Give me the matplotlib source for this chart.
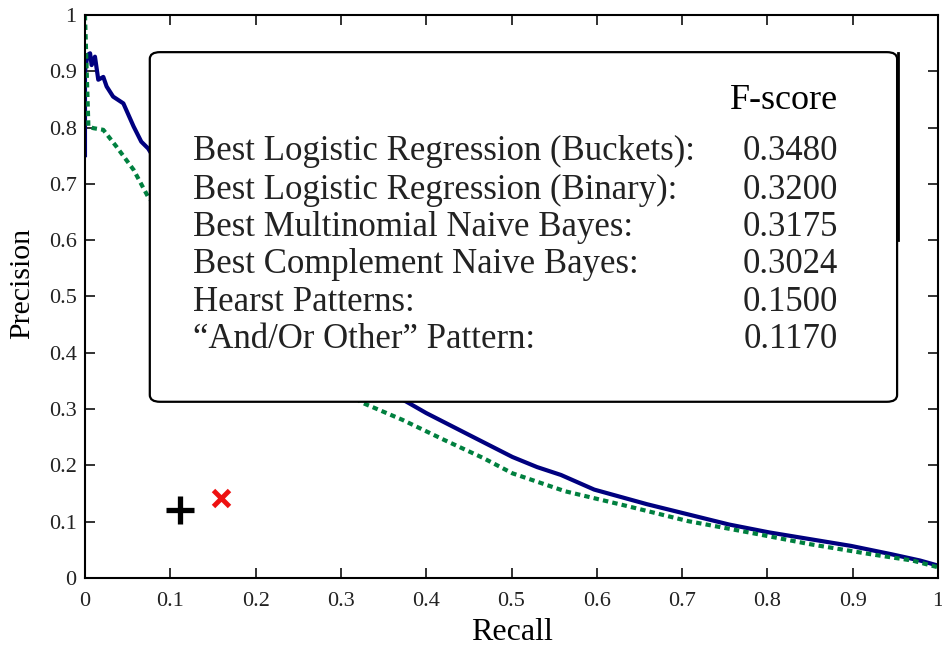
import numpy as np
import matplotlib.pyplot as plt
from matplotlib.patches import FancyBboxPatch

plt.rcParams['font.family'] = ['Liberation Serif', 'DejaVu Serif']

# precision / recall curves
# (the 0.08-0.36 stretch sits behind the box, values there are rough)
lr_recall = [0.0, 0.0, 0.003, 0.006, 0.0078, 0.0117, 0.0156, 0.0215, 0.0254, 0.033, 0.045,
             0.057, 0.066, 0.074, 0.10, 0.15, 0.20, 0.25, 0.30, 0.35, 0.377, 0.40,
             0.453, 0.501, 0.530, 0.558, 0.597, 0.659, 0.707, 0.755, 0.802, 0.850, 0.898,
             0.946, 0.979, 1.0]
lr_prec = [0.751, 0.90, 0.929, 0.932, 0.911, 0.926, 0.885, 0.890, 0.873, 0.855, 0.843,
           0.802, 0.775, 0.763, 0.70, 0.60, 0.51, 0.44, 0.385, 0.335, 0.313, 0.293,
           0.252, 0.215, 0.197, 0.183, 0.157, 0.131, 0.113, 0.095, 0.081, 0.069, 0.057,
           0.042, 0.031, 0.022]

nb_recall = [0.0, 0.004, 0.0098, 0.0215, 0.037, 0.057, 0.074, 0.10, 0.15, 0.20, 0.25,
             0.30, 0.324, 0.372, 0.420, 0.467, 0.501, 0.563, 0.635, 0.707, 0.778,
             0.850, 0.922, 0.970, 1.0]
nb_prec = [1.0, 0.802, 0.799, 0.796, 0.766, 0.725, 0.677, 0.63, 0.54, 0.46, 0.40,
           0.34, 0.312, 0.281, 0.246, 0.213, 0.186, 0.154, 0.128, 0.101, 0.081,
           0.060, 0.042, 0.031, 0.019]

# single-point methods
hearst_pt = (0.111, 0.121)
andor_pt = (0.159, 0.142)

methods = ['Best Logistic Regression (Buckets):',
           'Best Logistic Regression (Binary):',
           'Best Multinomial Naive Bayes:',
           'Best Complement Naive Bayes:',
           'Hearst Patterns:',
           '\u201cAnd/Or Other\u201d Pattern:']
fscores = ['0.3480', '0.3200', '0.3175', '0.3024', '0.1500', '0.1170']

fig = plt.figure(figsize=(9.42, 6.49), dpi=100)
ax = fig.add_axes([0.0902, 0.1094, 0.9056, 0.8675])

ax.plot(lr_recall, lr_prec, color='#00007f', lw=3, zorder=2)
ax.plot(nb_recall, nb_prec, color='#00803f', lw=3, ls=(0, (1.3, 1.0)), zorder=2)
ax.plot(*hearst_pt, marker='+', color='black', ms=20, mew=3.8, ls='none', zorder=2)
ax.plot(*andor_pt, marker='x', color='#ee1111', ms=12, mew=3.5, ls='none', zorder=2)

ax.set_xlim(0, 1)
ax.set_ylim(0, 1)
ticks = np.arange(0, 1.01, 0.1)
labels = ['0'] + ['%.1f' % t for t in ticks[1:-1]] + ['1']
ax.set_xticks(ticks)
ax.set_xticklabels(labels)
ax.set_yticks(ticks)
ax.set_yticklabels(labels)
ax.tick_params(direction='in', top=True, right=True, length=7, width=1.3,
               labelsize=16, colors='#222222')
ax.tick_params(axis='x', pad=10)
ax.tick_params(axis='y', pad=6)
for s in ax.spines.values():
    s.set_linewidth(1.5)
ax.set_xlabel('Recall', fontsize=23, labelpad=5)
ax.set_ylabel('Precision', fontsize=21.5)
ax.yaxis.set_label_coords(-0.058, 0.524)

# the score box
box = FancyBboxPatch((0.076, 0.313), 0.876, 0.621, transform=ax.transAxes,
                     boxstyle='round,pad=0,rounding_size=0.012',
                     facecolor='white', edgecolor='black', lw=1.6, zorder=5)
ax.add_patch(box)
ax.plot([0.953, 0.953], [0.60, 0.932], transform=ax.transAxes, color='black',
        lw=2, zorder=6)

ax.text(0.883, 0.849, 'F-score', transform=ax.transAxes, ha='right', va='center',
        fontsize=26, color='black', zorder=7)
row_y = [0.757, 0.689, 0.623, 0.556, 0.490, 0.423]
for name, score, yy in zip(methods, fscores, row_y):
    ax.text(0.127, yy, name, transform=ax.transAxes, ha='left', va='center',
            fontsize=25, color='#222222', zorder=7)
    ax.text(0.883, yy, score, transform=ax.transAxes, ha='right', va='center',
            fontsize=25, color='#222222', zorder=7)

plt.savefig('out.png', dpi=100)
